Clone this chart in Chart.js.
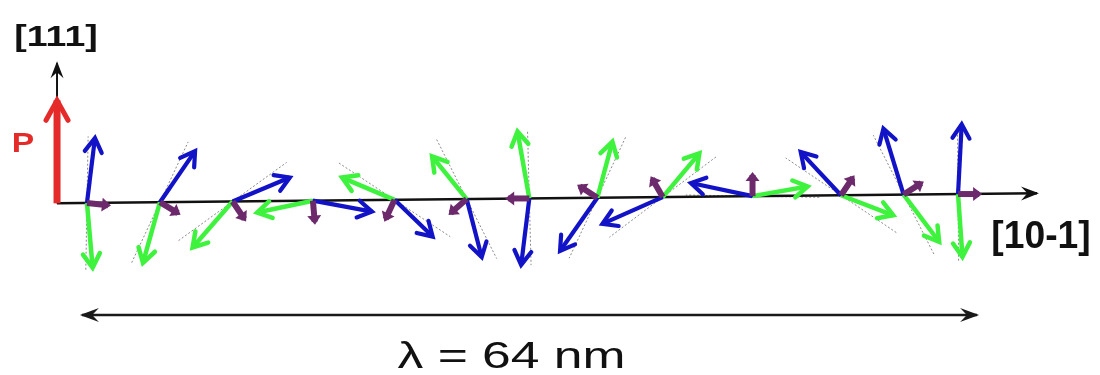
<!DOCTYPE html>
<html><head><meta charset="utf-8">
<script src="https://cdn.jsdelivr.net/npm/chart.js@4.4.1/dist/chart.umd.min.js"></script>
<style>html,body{margin:0;padding:0;background:#fff}#wrap{width:1100px;height:375px;position:relative}</style>
</head><body><div id="wrap"><canvas id="c"></canvas></div>
<script>
// ---- data ----
const sitePositions = [0, 5.36, 10.7, 16.6, 22.6, 27.9, 32.5, 37.5, 42.3, 48.9, 55.4, 60.0, 64.0]; // nm along [10-1]
const blueAngles   = [83, 55.5, 22.8, -10.5, -44, -75.5, -97, -125, -156, 168, 133, 107, 87];   // deg
const blueLengths  = [4.81, 4.56, 4.56, 4.41, 3.89, 4.41, 4.92, 4.78, 4.85, 4.63, 4.34, 5.07, 5.14];
const greenAngles  = [-85, -105.6, -131, -168, 157, 129, 100, 75, 50, 10, -21, -53, -86];
const greenLengths = [4.78, 4.63, 4.48, 4.19, 4.19, 4.04, 5.0, 4.26, 4.19, 4.11, 4.11, 4.34, 4.63];
const purpleAngles = [-6, -31, -56, -85, -115, -139, 180, 147, 120, 90, 56, 33, 0];
const purpleLength = 1.55;
const wavelength = 64;
const axisLabels = ['[111]', '[10-1]'];
const polarLabel = 'P';
const lambdaLabel = 'λ = ' + wavelength + ' nm';

// ---- layout ----
const X_RANGE = [-6.39, 74.43];
const Y_RANGE = [-12.64, 14.92];
const TILT = 0.0103;
const AXIS_X0 = -2.2, AXIS_X1 = 69.8, AXIS_YTOP = 10.29, P_LEN = 7.57;
const LAMBDA_Y = -8.23, LAMBDA_X = [-0.37, 65.4];
const GUIDE_HALF = 4.9;

const BLUE = '#1212c6', GREEN = '#3ef23e', PURPLE = '#6c2a6c', RED = '#e52a2a', BLACK = '#111';

function base(x) { return {x: x, y: TILT * x}; }
function polar(o, deg, len) { const a = deg * Math.PI / 180; return {x: o.x + len * Math.cos(a), y: o.y + len * Math.sin(a)}; }
function seg(a, b, style) {
  return Object.assign({data: [a, b], showLine: true, pointRadius: 0, pointHoverRadius: 0, fill: false, tension: 0, borderCapStyle: 'butt'}, style);
}

const datasets = [];
// dotted guide lines
sitePositions.forEach((x, i) => {
  const o = base(x);
  const b = blueAngles[i] * Math.PI / 180, g = (greenAngles[i] + 180) * Math.PI / 180;
  const ang = Math.atan2(Math.sin(b) + Math.sin(g), Math.cos(b) + Math.cos(g)) * 180 / Math.PI;
  datasets.push(seg(polar(o, ang + 180, GUIDE_HALF), polar(o, ang, GUIDE_HALF),
    {borderColor: 'rgba(110,110,110,0.8)', borderWidth: 1, borderDash: [2, 2], order: 10}));
});
// axes
datasets.push(seg(base(AXIS_X0), base(AXIS_X1), {borderColor: BLACK, borderWidth: 2.5, order: 8, head: {kind: 'notch', L: 16, W: 7, color: BLACK}}));
datasets.push(seg(base(AXIS_X0), {x: AXIS_X0, y: base(AXIS_X0).y + AXIS_YTOP}, {borderColor: BLACK, borderWidth: 2, order: 8, head: {kind: 'notch', L: 15, W: 6.5, color: BLACK}}));
// lambda arrow
datasets.push(seg({x: LAMBDA_X[0], y: LAMBDA_Y}, {x: LAMBDA_X[1], y: LAMBDA_Y}, {borderColor: '#1a1a1a', borderWidth: 2.5, order: 8, head: {kind: 'notch', L: 17, W: 7, color: '#1a1a1a', both: true}}));
// spins
sitePositions.forEach((x, i) => {
  const o = base(x);
  datasets.push(seg(o, polar(o, greenAngles[i], greenLengths[i]), {borderColor: GREEN, borderWidth: 4.5, order: 6, head: {kind: 'chevron', L: 14, W: 8.5, lw: 4.5, color: GREEN}}));
  datasets.push(seg(o, polar(o, blueAngles[i], blueLengths[i]), {borderColor: BLUE, borderWidth: 4.2, order: 5, head: {kind: 'chevron', L: 14, W: 8.5, lw: 4.2, color: BLUE}}));
  datasets.push(seg(o, polar(o, purpleAngles[i], purpleLength), {borderColor: PURPLE, borderWidth: 6, order: 4, head: {kind: 'tri', L: 9, W: 7, ahead: 3, color: PURPLE}}));
});
// polarization P
datasets.push(seg(base(AXIS_X0), {x: AXIS_X0, y: base(AXIS_X0).y + P_LEN}, {borderColor: RED, borderWidth: 7, order: 3, head: {kind: 'chevron', L: 20, W: 11, lw: 5, color: RED}}));

function drawHead(ctx, from, tip, h) {
  const ang = Math.atan2(tip.y - from.y, tip.x - from.x);
  ctx.save();
  ctx.translate(tip.x, tip.y);
  ctx.rotate(ang);
  if (h.ahead) ctx.translate(h.ahead, 0);
  ctx.fillStyle = h.color; ctx.strokeStyle = h.color;
  ctx.beginPath();
  if (h.kind === 'chevron') {
    ctx.lineWidth = h.lw; ctx.lineJoin = 'miter'; ctx.lineCap = 'round';
    ctx.moveTo(-h.L, -h.W); ctx.lineTo(0, 0); ctx.lineTo(-h.L, h.W); ctx.stroke();
  } else if (h.kind === 'notch') {
    ctx.moveTo(2, 0); ctx.lineTo(-h.L, -h.W); ctx.lineTo(-h.L * 0.6, 0); ctx.lineTo(-h.L, h.W); ctx.closePath(); ctx.fill();
  } else {
    ctx.moveTo(0, 0); ctx.lineTo(-h.L, -h.W); ctx.lineTo(-h.L, h.W); ctx.closePath(); ctx.fill();
  }
  ctx.restore();
}

const arrowPlugin = {
  id: 'arrowheads',
  afterDatasetDraw(chart, args) {
    const ds = chart.data.datasets[args.index];
    if (!ds.head) return;
    const p = args.meta.data;
    drawHead(chart.ctx, p[0], p[1], ds.head);
    if (ds.head.both) drawHead(chart.ctx, p[1], p[0], ds.head);
  }
};

function drawLabel(ctx, text, cx, baseline, font, color, stretch, targetWidth) {
  ctx.save();
  ctx.font = font; ctx.fillStyle = color; ctx.textAlign = 'center'; ctx.textBaseline = 'alphabetic';
  let s = stretch || 1;
  if (targetWidth) s = targetWidth / ctx.measureText(text).width;
  ctx.translate(cx, baseline); ctx.scale(s, 1);
  ctx.fillText(text, 0, 0);
  ctx.restore();
}

const labelPlugin = {
  id: 'labels',
  afterDraw(chart) {
    const ctx = chart.ctx, xs = chart.scales.x, ys = chart.scales.y;
    const ax = xs.getPixelForValue(AXIS_X0);
    const ay0 = ys.getPixelForValue(base(AXIS_X0).y);
    const aTop = ys.getPixelForValue(base(AXIS_X0).y + AXIS_YTOP);
    drawLabel(ctx, axisLabels[0], ax - 1, aTop - 17, 'bold 30px "Liberation Sans", Arial, sans-serif', BLACK, 1.25);
    const tx = xs.getPixelForValue(AXIS_X1), ty = ys.getPixelForValue(base(AXIS_X1).y);
    drawLabel(ctx, axisLabels[1], tx + 4, ty + 55, 'bold 38px "Liberation Sans", Arial, sans-serif', BLACK, 0.98);
    drawLabel(ctx, polarLabel, ax - 34, ay0 - 51, 'bold 28px "Liberation Sans", Arial, sans-serif', RED, 1.2);
    const lx = (xs.getPixelForValue(LAMBDA_X[0]) + xs.getPixelForValue(LAMBDA_X[1])) / 2;
    const ly = ys.getPixelForValue(LAMBDA_Y);
    drawLabel(ctx, lambdaLabel, lx - 18, ly + 53, '36px "Liberation Sans", Arial, sans-serif', '#111', null, 228);
  }
};

new Chart(document.getElementById('c'), {
  type: 'scatter',
  data: {datasets: datasets},
  options: {
    responsive: true, maintainAspectRatio: false, animation: false, devicePixelRatio: 1,
    layout: {padding: 0},
    plugins: {legend: {display: false}, tooltip: {enabled: false}, title: {display: false}},
    events: [],
    scales: {
      x: {type: 'linear', min: X_RANGE[0], max: X_RANGE[1], display: false},
      y: {type: 'linear', min: Y_RANGE[0], max: Y_RANGE[1], display: false}
    }
  },
  plugins: [arrowPlugin, labelPlugin]
});
</script>
</body></html>
